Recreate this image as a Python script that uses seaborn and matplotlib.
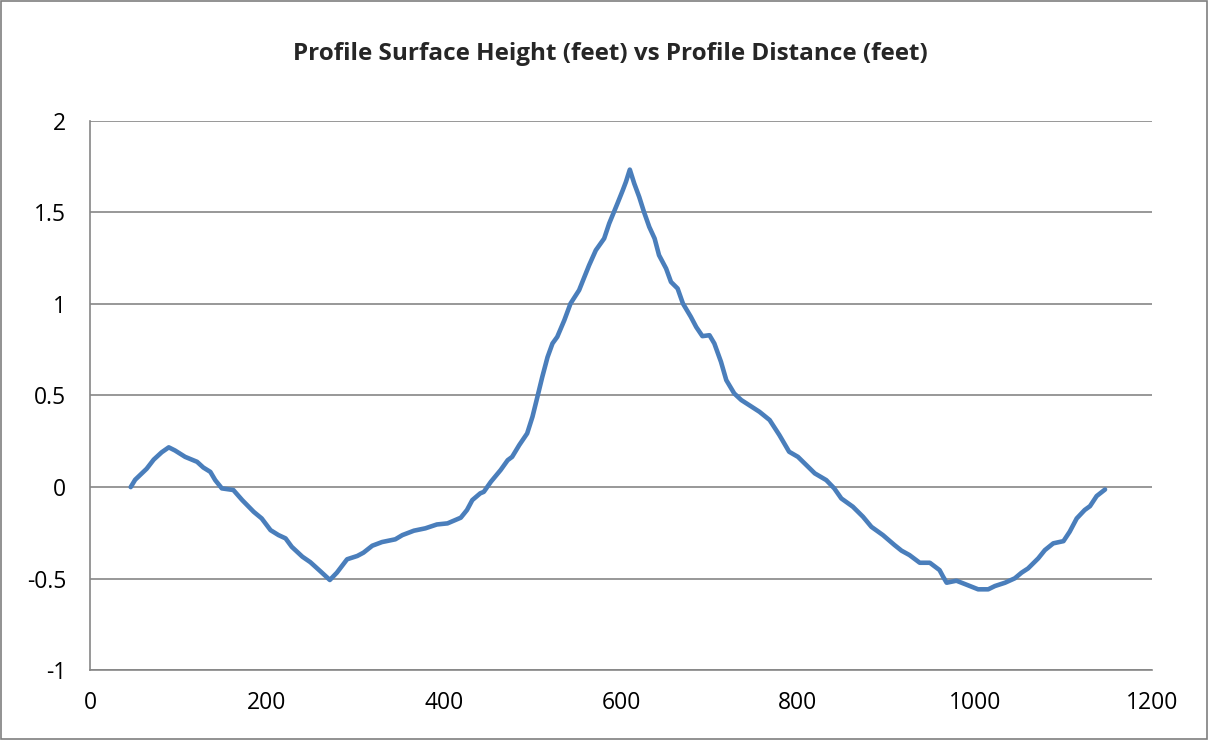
import matplotlib
matplotlib.use("Agg")
import matplotlib.pyplot as plt
import seaborn as sns
import pandas as pd
from matplotlib.patches import Rectangle

# Profile distance (feet)
distance = [46, 51, 64, 72, 81, 89, 96, 107.5, 121, 128, 136, 141.5, 149, 162, 172, 185,
            194, 204, 213, 221, 228, 240, 249, 260, 271, 279, 290.5, 302, 309, 319, 330,
            345, 353, 366, 379, 392, 404, 419, 426, 432, 441, 445, 453, 464, 472, 477,
            485, 494, 500, 505.6, 511, 517, 522.6, 528, 536, 543, 552.7, 558, 564, 571.6,
            581, 586.7, 596, 602, 605.6, 610, 615, 620.6, 626, 632, 638, 643, 651, 656.5,
            664, 670, 679, 685, 692, 700, 705.5, 713, 719, 728, 736, 745, 756.5, 768, 779,
            790, 800, 819, 832, 841, 849, 862, 873.5, 883, 896, 909, 917, 926, 937.6, 949,
            960, 964, 968, 979, 988.5, 1003.6, 1015, 1022.6, 1034, 1045, 1052.7, 1060,
            1071.5, 1079, 1088.5, 1100, 1107, 1115, 1124, 1130, 1137.5, 1147]

# Profile surface height (feet)
height = [0.0, 0.04, 0.10, 0.15, 0.19, 0.217, 0.20, 0.165, 0.138, 0.107, 0.083, 0.038,
          -0.007, -0.016, -0.071, -0.135, -0.171, -0.235, -0.262, -0.28, -0.326, -0.38,
          -0.41, -0.458, -0.507, -0.467, -0.394, -0.376, -0.358, -0.32, -0.30, -0.285,
          -0.262, -0.238, -0.225, -0.204, -0.198, -0.167, -0.125, -0.071, -0.034, -0.026,
          0.029, 0.093, 0.147, 0.165, 0.229, 0.293, 0.384, 0.493, 0.60, 0.709, 0.784,
          0.82, 0.911, 1.002, 1.075, 1.139, 1.211, 1.293, 1.357, 1.439, 1.548, 1.62,
          1.666, 1.733, 1.657, 1.584, 1.502, 1.42, 1.357, 1.266, 1.193, 1.12, 1.084,
          1.002, 0.929, 0.874, 0.824, 0.829, 0.784, 0.684, 0.584, 0.511, 0.475, 0.447,
          0.411, 0.366, 0.284, 0.193, 0.165, 0.075, 0.038, -0.007, -0.062, -0.107,
          -0.162, -0.217, -0.262, -0.316, -0.347, -0.371, -0.413, -0.413, -0.453,
          -0.489, -0.522, -0.511, -0.529, -0.558, -0.558, -0.54, -0.522, -0.498, -0.467,
          -0.444, -0.389, -0.344, -0.307, -0.295, -0.244, -0.171, -0.125, -0.104, -0.049,
          -0.013]

x_ticks = [0, 200, 400, 600, 800, 1000, 1200]
y_ticks = [-1, -0.5, 0, 0.5, 1, 1.5, 2]
y_tick_labels = ["-1", "-0.5", "0", "0.5", "1", "1.5", "2"]

df = pd.DataFrame({"distance": distance, "height": height})

sns.set_style("white")
plt.rcParams["font.family"] = ["Open Sans", "DejaVu Sans"]

grid_color = "#868686"
fig = plt.figure(figsize=(12.08, 7.40), dpi=100)
ax = fig.add_axes([0.0745, 0.0942, 0.8791, 0.7427])

sns.lineplot(data=df, x="distance", y="height", ax=ax, sort=False, estimator=None,
             color="#4A7EBB", linewidth=3.3, solid_capstyle="round", solid_joinstyle="round")

ax.set_xlim(0, 1200)
ax.set_ylim(-1, 2)
ax.set_xticks(x_ticks)
ax.set_xticklabels([str(t) for t in x_ticks])
ax.set_yticks(y_ticks)
ax.set_yticklabels(y_tick_labels)
ax.set_xlabel("")
ax.set_ylabel("")

ax.yaxis.grid(True, color=grid_color, linewidth=1.2)
ax.xaxis.grid(False)
ax.set_axisbelow(True)

for side in ["top", "right"]:
    ax.spines[side].set_visible(False)
for side in ["left", "bottom"]:
    ax.spines[side].set_color(grid_color)
    ax.spines[side].set_linewidth(1.2)

ax.tick_params(axis="both", direction="out", length=5, width=1.2, color=grid_color,
               labelsize=16.5, labelcolor="black")
ax.tick_params(axis="y", pad=12)
ax.tick_params(axis="x", pad=10)

fig.text(0.505, 0.927, "Profile Surface Height (feet) vs Profile Distance (feet)",
         ha="center", va="center", fontsize=17.5, fontweight="bold")

fig.patches.append(Rectangle((0.0008, 0.0012), 0.9984, 0.9976, transform=fig.transFigure,
                             fill=False, edgecolor="#7f7f7f", linewidth=1.2))

fig.savefig("out.png", dpi=100)
